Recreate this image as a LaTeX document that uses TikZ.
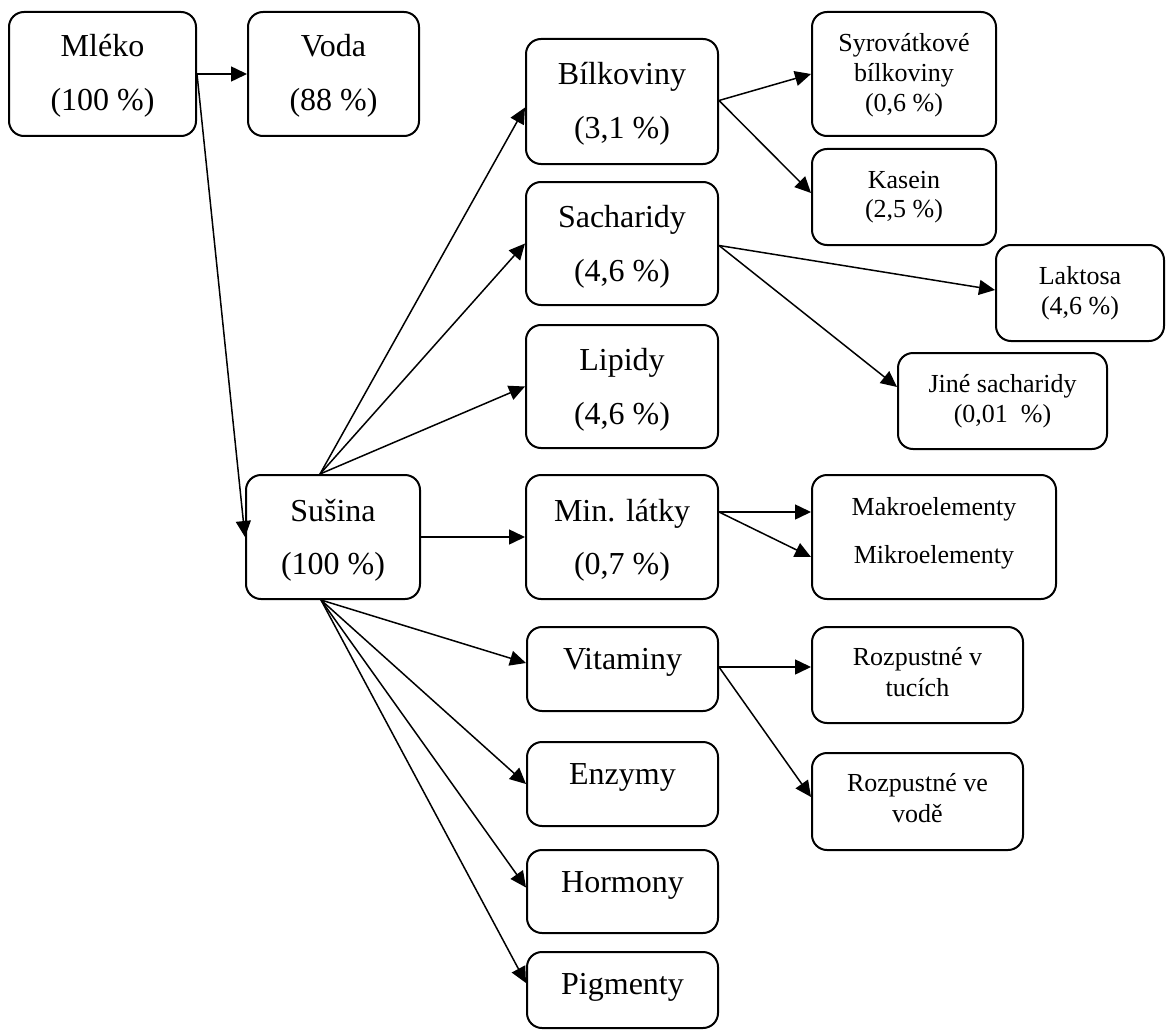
\documentclass[tikz,border=0pt]{standalone}
\usepackage{fontspec}
\setmainfont{Liberation Serif}
\usetikzlibrary{arrows.meta,calc}
\newcommand\bx[5]{\node[box,minimum width={#4-#2},minimum height={#5-#3}] (#1) at ({(#2+#4)/2},{(#3+#5)/2}) {};}
\begin{document}
\begin{tikzpicture}[x=1pt,y=-1pt,
  box/.style={draw,line width=2pt,rounded corners=15pt,inner sep=0pt},
  big/.style={anchor=base,inner sep=0pt,font=\fontsize{32}{38}\selectfont},
  small/.style={anchor=base,inner sep=0pt,font=\fontsize{26}{30}\selectfont},
  arr/.style={line width=1.5pt,-{Triangle[length=16pt,width=15pt]}}]
\useasboundingbox (0,0) rectangle (1167,1030);
% boxes
\bx{mleko}{9}{12}{196}{136}
\bx{voda}{248}{12}{419}{136}
\bx{bilk}{526}{39}{718}{164}
\bx{sach}{526}{182}{718}{305}
\bx{lip}{526}{325}{718}{448}
\bx{sus}{246}{475}{420}{599}
\bx{minl}{526}{475}{718}{599}
\bx{vit}{527}{627}{718}{711}
\bx{enz}{527}{742}{718}{826}
\bx{hor}{527}{850}{718}{933}
\bx{pig}{527}{952}{718}{1028}
\bx{syr}{812}{12}{996}{136}
\bx{kas}{812}{149}{996}{245}
\bx{lak}{996}{245}{1164}{341}
\bx{jin}{898}{353}{1107}{449}
\bx{mak}{812}{475}{1056}{599}
\bx{rtu}{812}{627}{1023}{723}
\bx{rvo}{812}{753}{1023}{850}
% texts
\node[big] (mleko1) at ([yshift=-46pt]mleko.north) {Mléko};
\node[big] (mleko2) at ([yshift=-100pt]mleko.north) {(100 \%)};
\node[big] (voda1) at ([yshift=-46pt]voda.north) {Voda};
\node[big] (voda2) at ([yshift=-100pt]voda.north) {(88 \%)};
\node[big] (bilk1) at ([yshift=-47pt]bilk.north) {Bílkoviny};
\node[big] (bilk2) at ([yshift=-101pt]bilk.north) {(3,1 \%)};
\node[big] (sach1) at ([yshift=-46pt]sach.north) {Sacharidy};
\node[big] (sach2) at ([yshift=-100pt]sach.north) {(4,6 \%)};
\node[big] (lip1) at ([yshift=-46pt]lip.north) {Lipidy};
\node[big] (lip2) at ([yshift=-100pt]lip.north) {(4,6 \%)};
\node[big] (sus1) at ([yshift=-47pt]sus.north) {Sušina};
\node[big] (sus2) at ([yshift=-100pt]sus.north) {(100 \%)};
\node[big] (minl1) at ([yshift=-47pt]minl.north) {Min. látky};
\node[big] (minl2) at ([yshift=-100pt]minl.north) {(0,7 \%)};
\node[big] (vit1) at ([yshift=-43pt]vit.north) {Vitaminy};
\node[big] (enz1) at ([yshift=-43pt]enz.north) {Enzymy};
\node[big] (hor1) at ([yshift=-43pt]hor.north) {Hormony};
\node[big] (pig1) at ([yshift=-43pt]pig.north) {Pigmenty};
\node[small] (syr1) at ([yshift=-41pt]syr.north) {Syrovátkové};
\node[small] (syr2) at ([yshift=-71pt]syr.north) {bílkoviny};
\node[small] (syr3) at ([yshift=-101pt]syr.north) {(0,6 \%)};
\node[small] (kas1) at ([yshift=-40pt]kas.north) {Kasein};
\node[small] (kas2) at ([yshift=-69pt]kas.north) {(2,5 \%)};
\node[small] (lak1) at ([yshift=-40pt]lak.north) {Laktosa};
\node[small] (lak2) at ([yshift=-70pt]lak.north) {(4,6 \%)};
\node[small] (jin1) at ([yshift=-40pt]jin.north) {Jiné sacharidy};
\node[small] (jin2) at ([yshift=-70pt]jin.north) {(0,01\ \ \%)};
\node[small] (mak1) at ([yshift=-41pt]mak.north) {Makroelementy};
\node[small] (mak2) at ([yshift=-89pt]mak.north) {Mikroelementy};
\node[small] (rtu1) at ([yshift=-39pt]rtu.north) {Rozpustné v};
\node[small] (rtu2) at ([yshift=-70pt]rtu.north) {tucích};
\node[small] (rvo1) at ([yshift=-39pt]rvo.north) {Rozpustné ve};
\node[small] (rvo2) at ([yshift=-70pt]rvo.north) {vodě};
% connectors
\draw[arr] (mleko.east) -- (voda.west);
\draw[arr] (mleko.east) -- (sus.west);
\coordinate (sn) at ([xshift=-13pt]sus.north);
\coordinate (ss) at ([xshift=-12pt]sus.south);
\draw[arr] (sn) -- ([yshift=-6pt]bilk.west);
\draw[arr] (sn) -- (sach.west);
\draw[arr] (sn) -- (lip.west);
\draw[arr] (sus.east) -- (minl.west);
\draw[arr] (ss) -- ([yshift=6pt]vit.west);
\draw[arr] (ss) -- (enz.west);
\draw[arr] (ss) -- ([yshift=4pt]hor.west);
\draw[arr] (ss) -- ([yshift=7pt]pig.west);
\coordinate (be) at ([yshift=1pt]bilk.east);
\draw[arr] (be) -- (syr.west);
\draw[arr] (be) -- ([yshift=4pt]kas.west);
\coordinate (se) at ([yshift=-2pt]sach.east);
\draw[arr] (se) -- ([yshift=3pt]lak.west);
\draw[arr] (se) -- ([yshift=14pt]jin.west);
\coordinate (me) at ([yshift=25pt]minl.east);
\draw[arr] (me) -- ([yshift=25pt]mak.west);
\draw[arr] (me) -- ([yshift=-20pt]mak.west);
\coordinate (ve) at ([yshift=2pt]vit.east);
\draw[arr] (ve) -- ([yshift=8pt]rtu.west);
\draw[arr] (ve) -- ([yshift=4.5pt]rvo.west);
\end{tikzpicture}
\end{document}
